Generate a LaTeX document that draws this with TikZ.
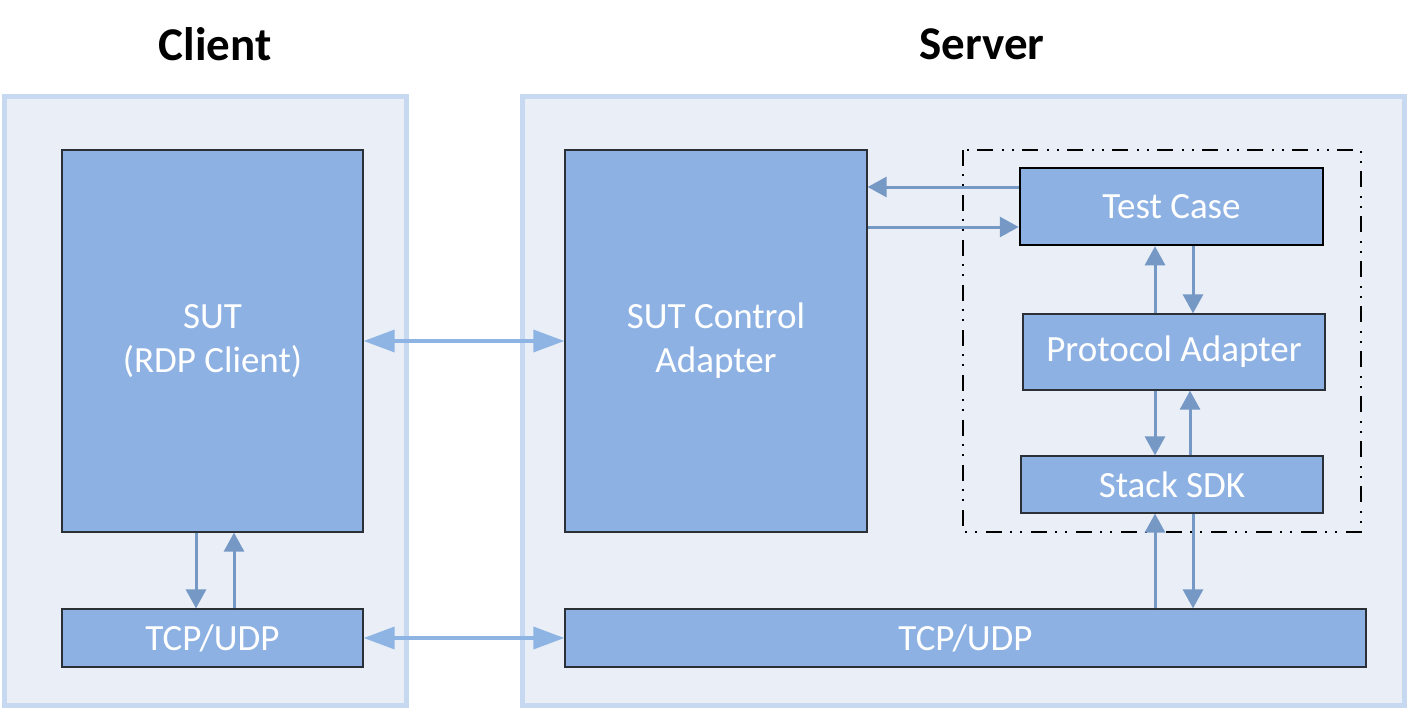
\documentclass[tikz,border=0pt]{standalone}
\usepackage{fontspec}
\setmainfont{Carlito}
\usetikzlibrary{arrows.meta,calc}
\definecolor{panelfill}{HTML}{E9EEF7}
\definecolor{panelborder}{HTML}{C6D9F1}
\definecolor{boxfill}{HTML}{8EB1E3}
\definecolor{boxborder}{HTML}{2B2F36}
\definecolor{arrowdark}{HTML}{7598C5}
\definecolor{arrowlight}{HTML}{8EB4E3}
\begin{document}
\begin{tikzpicture}[x=1pt,y=-1pt,
  panel/.style={draw=panelborder,fill=panelfill,line width=5pt},
  box/.style={draw=boxborder,fill=boxfill,line width=1.3pt,text=white,
    font=\fontsize{37}{44}\selectfont,align=center,inner sep=0pt},
  title/.style={font=\fontsize{47}{50}\selectfont\bfseries,text=black},
  varrow/.style={draw=arrowdark,line width=3pt,-{Triangle[length=19pt,width=20pt]}},
  harrow/.style={draw=arrowlight,line width=3.5pt,{Triangle[length=31pt,width=22pt]}-{Triangle[length=31pt,width=22pt]}},
  group/.style={draw=black,line width=1.8pt,dash pattern=on 16pt off 8pt on 2pt off 8pt on 2pt off 9pt}
]
\useasboundingbox (0,0) rectangle (1408,709);
\fill[white] (0,0) rectangle (1408,709);

% panels
\draw[panel] (4,96) rectangle (406,705);
\draw[panel] (522,96) rectangle (1404,705);

% titles
\node[title] (tclient) at (215,44) {Client};
\node[title] (tserver) at (982,44) {Server};

% client boxes
\node[box,minimum width=301pt,minimum height=382pt] (sut) at (212.5,341) {SUT\\(RDP Client)};
\node[box,minimum width=301pt,minimum height=58pt] (ctcp) at (212.5,638) {TCP/UDP};

% server boxes
\node[box,minimum width=302pt,minimum height=382pt] (sca) at (716,341) {SUT Control\\Adapter};
\node[box,minimum width=801pt,minimum height=58pt] (stcp) at (965.5,638) {TCP/UDP};

% dash-dot group
\draw[group] (963,150) rectangle (1361,532);

\node[box,draw=black,line width=2.5pt,minimum width=303pt,minimum height=77pt] (tc) at (1171.5,206.5) {Test Case};
\node[box,minimum width=302pt,minimum height=76pt] (pa) at (1174,352) {Protocol Adapter};
\node[box,minimum width=302pt,minimum height=57pt] (sdk) at (1172,484.5) {Stack SDK};

% client vertical arrows
\draw[varrow] (sut.south -| 196,0) -- (ctcp.north -| 196,0);
\draw[varrow] (ctcp.north -| 234,0) -- (sut.south -| 234,0);

% horizontal double arrows
\draw[harrow] (sut.east |- 0,341) -- (sca.west |- 0,341);
\draw[harrow] (ctcp.east |- 0,638) -- (stcp.west |- 0,638);

% test case <-> SUT control adapter
\draw[varrow] (tc.west |- 0,187) -- (sca.east |- 0,187);
\draw[varrow] (sca.east |- 0,227) -- (tc.west |- 0,227);

% test case <-> protocol adapter
\draw[varrow] (pa.north -| 1155,0) -- (tc.south -| 1155,0);
\draw[varrow] (tc.south -| 1193,0) -- (pa.north -| 1193,0);

% protocol adapter <-> stack sdk
\draw[varrow] (pa.south -| 1155,0) -- (sdk.north -| 1155,0);
\draw[varrow] (sdk.north -| 1190,0) -- (pa.south -| 1190,0);

% stack sdk <-> tcp/udp
\draw[varrow] (stcp.north -| 1155,0) -- (sdk.south -| 1155,0);
\draw[varrow] (sdk.south -| 1193,0) -- (stcp.north -| 1193,0);
\end{tikzpicture}
\end{document}
